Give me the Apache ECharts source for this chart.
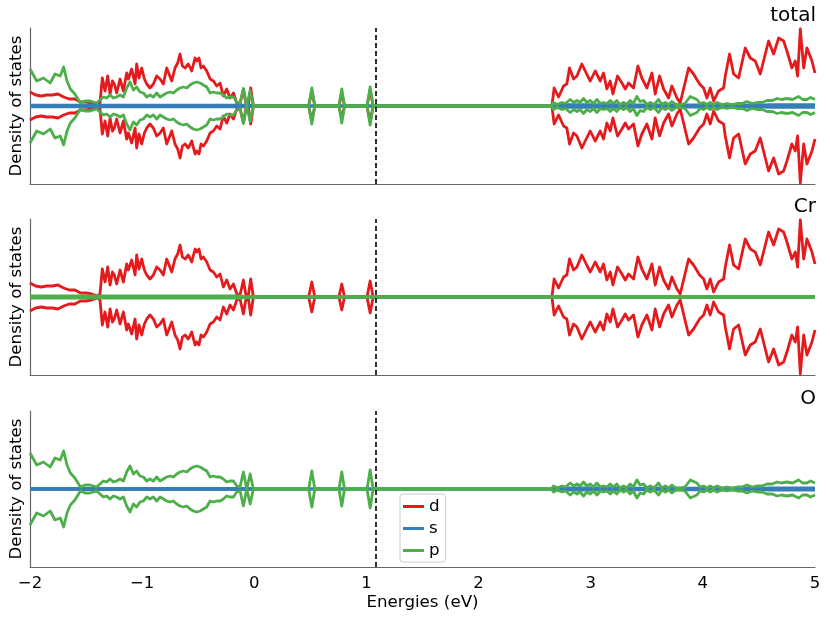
<!DOCTYPE html>
<html><head><meta charset="utf-8">
<script src="https://cdn.jsdelivr.net/npm/echarts@6.0.0/dist/echarts.min.js"></script>
<style>html,body{margin:0;padding:0;background:#fff}#c{width:830px;height:624px}</style>
</head><body><div id="c"></div>
<script>
// ---- d states (Cr only; O has no d states). Spin down is the mirror of spin up.
const dEnergies = [
-2.00,-1.95,-1.90,-1.85,-1.80,-1.75,-1.70,-1.65,-1.60,-1.55,-1.50,-1.45,-1.40,
-1.376,-1.355,-1.331,-1.307,-1.286,-1.265,-1.248,-1.227,-1.197,-1.167,
-1.138,-1.123,-1.093,-1.063,-1.049,-1.028,-1.004,-0.980,-0.959,-0.930,
-0.900,-0.870,-0.840,-0.811,-0.781,-0.760,-0.736,-0.707,-0.683,-0.662,
-0.641,-0.617,-0.588,-0.558,-0.528,-0.513,-0.493,-0.475,-0.454,-0.424,
-0.394,-0.365,-0.335,-0.305,-0.276,-0.246,-0.216,-0.186,-0.156,-0.127,
-0.097,-0.076,-0.052,-0.032,-0.008,
0.03,0.485,0.513,0.54,0.755,0.78,0.805,1.005,1.033,1.06,2.63,
2.654,2.674,2.713,2.758,2.787,2.811,2.847,2.877,2.921,2.951,
2.996,3.040,3.085,3.114,3.144,3.174,3.198,3.239,3.278,3.308,
3.337,3.382,3.421,3.456,3.501,3.546,3.575,3.614,3.650,3.694,
3.724,3.769,3.798,3.873,3.917,3.971,4.007,4.036,4.066,4.096,
4.140,4.185,4.200,4.238,4.274,4.319,4.378,4.423,4.467,4.512,
4.586,4.631,4.676,4.720,4.750,4.794,4.824,4.845,4.869,4.899,
4.928,4.973,5.000];
const crD = [
14,11,10,11,11,12,9,7,7,4,4,3,1,
3,28,15,30,12,25,22,13,27,15,
33,27,37,22,42,28,38,27,22,18,
22,30,27,22,38,32,25,38,43,52,
40,38,42,35,48,45,48,38,40,35,
27,25,20,23,10,17,8,13,3,2,
17,3,2,18,0,
0,0,15,0,0,13,0,0,16,0,0,
0,18,9,20,22,38,27,30,42,35,
25,35,25,33,17,25,12,30,23,17,
23,18,40,28,18,33,12,30,17,8,
20,8,3,38,32,22,18,8,18,5,
15,18,30,52,32,28,58,48,45,32,
65,52,68,65,55,38,45,30,77,38,
58,45,33];

// ---- p states
const pEnergies = [
-2.00,-1.94,-1.88,-1.82,-1.777,-1.73,-1.70,-1.67,-1.64,-1.60,-1.55,-1.51,-1.465,-1.405,
-1.376,-1.346,-1.316,-1.286,-1.257,-1.227,-1.197,-1.167,-1.138,-1.108,
-1.078,-1.049,-1.019,-0.989,-0.959,-0.930,-0.900,-0.870,-0.840,-0.811,
-0.781,-0.751,-0.721,-0.692,-0.662,-0.632,-0.602,-0.573,-0.543,-0.513,
-0.483,-0.454,-0.424,-0.394,-0.365,-0.335,-0.305,-0.276,-0.246,-0.216,
-0.186,-0.156,-0.127,-0.097,-0.067,-0.037,-0.008,
0.03,0.485,0.513,0.54,0.755,0.78,0.805,1.005,1.033,1.06,2.63,
2.65,2.668,2.70,2.743,2.775,2.817,2.85,2.877,2.905,2.936,
2.965,2.996,3.025,3.055,3.085,3.114,3.145,3.174,3.20,3.233,
3.26,3.293,3.32,3.352,3.38,3.412,3.44,3.471,3.50,3.531,
3.565,3.605,3.635,3.665,3.695,3.724,3.76,3.798,3.84,3.888,
3.947,3.975,4.007,4.035,4.066,4.095,4.126,4.17,4.215,4.26,
4.304,4.35,4.393,4.44,4.482,4.53,4.572,4.62,4.661,4.70,
4.750,4.80,4.854,4.89,4.928,4.96,5.00];
const oP = [
36,24,27,22,31,29,38,24,16,11,2,4,4,2,
5,8,7,10,7,8,10,8,17,23,
15,18,13,12,8,10,8,12,8,10,
12,13,12,15,17,18,17,20,22,23,
22,20,18,12,13,12,12,10,7,8,
8,3,2,17,0,15,0,
0,0,18,0,0,17,0,0,19,0,0,
0,3,1,3,2,6,3,5,3,7,
3,5,2,6,2,3,2,5,2,5,
1,3,1,5,2,9,4,5,1,3,
1,6,1,3,1,4,1,1,2,9,
6,2,3,1,3,1,3,1,2,1,
2,2,4,2,3,3,5,5,7,6,
7,6,9,6,6,8,6];
const crP = [
1,1,1,1,1,1,1,1,1,1,1,1,1,1,
1,1,1,1,1,1,1,1,1,1,
1,1,1,1,1,1,1,1,1,1,
1,1,1,1,1,1,1,1,1,1,
1,1,1,1,1,1,1,1,1,1,
1,1,1,0.5,0,0.5,0,
0,0,0,0,0,0,0,0,0,0,0,
0,0.5,0.5,0.5,0.5,0.5,0.5,0.5,0.5,0.5,
0.5,0.5,0.5,0.5,0.5,0.5,0.5,0.5,0.5,0.5,
0.5,0.5,0.5,0.5,0.5,0.5,0.5,0.5,0.5,0.5,
0.5,0.5,0.5,0.5,0.5,0.5,0.5,0.5,0.5,0.5,
0.5,0.5,0.5,0.5,0.5,0.5,0.5,0.5,0.5,0.5,
0.5,0.5,0.5,0.5,0.5,0.5,0.5,0.5,0.5,0.5,
0.5,0.5,0.5,0.5,0.5,0.5,0.5];

// ---- s states
const sEnergies = [-2.00,-0.05,0.00,0.05,2.60,2.65,2.70,3.35,3.40,4.55,4.60,5.00];
const oS  = [0.6,0.6,0.3,0,0,0.3,1.2,1.2,0.8,0.8,1.2,1.2];
const crS = [0.2,0.2,0.1,0,0,0,0.2,0.2,0.2,0.2,0.2,0.2];

const fermiLevel = 1.08;
const panelTitles = ['total', 'Cr', 'O'];
const orbitalNames = ['d', 's', 'p'];
const orbitalColors = ['#e41a1c', '#377eb8', '#4daf4a'];

const totalS = crS.map((v, i) => v + oS[i]);
const totalP = crP.map((v, i) => v + oP[i]);
const panels = [
  {d: [dEnergies, crD], s: [sEnergies, totalS], p: [pEnergies, totalP]},
  {d: [dEnergies, crD], s: [sEnergies, crS], p: [pEnergies, crP]},
  {d: null, s: [sEnergies, oS], p: [pEnergies, oP]}
];

const FONT = 'DejaVu Sans';
const gridTops = [28, 219, 411];
const grids = [], xAxes = [], yAxes = [], titles = [], series = [];

panels.forEach((pn, k) => {
  grids.push({left: 30, right: 15, top: gridTops[k], height: 156});
  xAxes.push({
    gridIndex: k, type: 'value', min: -2, max: 5, interval: 1,
    axisLine: {show: true, onZero: false, lineStyle: {color: '#666', width: 1.2}},
    axisTick: {show: false}, splitLine: {show: false},
    axisLabel: {show: k === 2, color: '#000', fontSize: 16.5, fontFamily: FONT, margin: 8,
      showMinLabel: true, showMaxLabel: true,
      formatter: v => String(v).replace('-', '\u2212')},
    name: k === 2 ? 'Energies (eV)' : '', nameLocation: 'middle', nameGap: 27,
    nameTextStyle: {color: '#000', fontSize: 16.7, fontFamily: FONT}
  });
  yAxes.push({
    gridIndex: k, type: 'value', min: -78, max: 78,
    axisLine: {show: true, onZero: false, lineStyle: {color: '#666', width: 1.2}},
    axisTick: {show: false}, axisLabel: {show: false}, splitLine: {show: false},
    name: 'Density of states', nameLocation: 'middle', nameGap: 5,
    nameTextStyle: {color: '#000', fontSize: 16.7, fontFamily: FONT}
  });
  titles.push({text: panelTitles[k], right: 14, top: gridTops[k] - 22, padding: 0,
    textStyle: {color: '#000', fontSize: 20, fontWeight: 'normal', fontFamily: FONT}});
  orbitalNames.forEach((nm, j) => {
    const pair = pn[nm];
    if (!pair) return;
    const [xs, ys] = pair;
    [1, -1].forEach(sign => {
      series.push({
        name: nm, type: 'line', xAxisIndex: k, yAxisIndex: k,
        data: xs.map((e, i) => [e, sign * ys[i]]),
        showSymbol: false, symbol: 'none', color: orbitalColors[j],
        lineStyle: {width: 2.8, color: orbitalColors[j], join: 'round'},
        animation: false, silent: true
      });
    });
  });
  series.push({
    type: 'line', xAxisIndex: k, yAxisIndex: k, data: [[fermiLevel, 0]],
    showSymbol: false, symbol: 'none', lineStyle: {width: 0}, animation: false, silent: true,
    markLine: {silent: true, symbol: ['none', 'none'], label: {show: false}, animation: false,
      lineStyle: {color: '#000', type: [5, 3], width: 1.6},
      data: [{xAxis: fermiLevel}]}
  });
});

const chart = echarts.init(document.getElementById('c'), null, {renderer: 'canvas'});
chart.setOption({
  backgroundColor: '#fff',
  animation: false,
  title: titles,
  grid: grids, xAxis: xAxes, yAxis: yAxes,
  legend: {
    data: orbitalNames, orient: 'vertical', left: 400, top: 494,
    icon: 'rect', itemWidth: 21, itemHeight: 3, itemGap: 5,
    padding: [4, 6, 3, 3], borderColor: '#ccc', borderWidth: 1, borderRadius: 3,
    backgroundColor: 'rgba(255,255,255,0.8)',
    textStyle: {color: '#000', fontSize: 16.7, fontFamily: FONT}
  },
  series: series
});
</script></body></html>
